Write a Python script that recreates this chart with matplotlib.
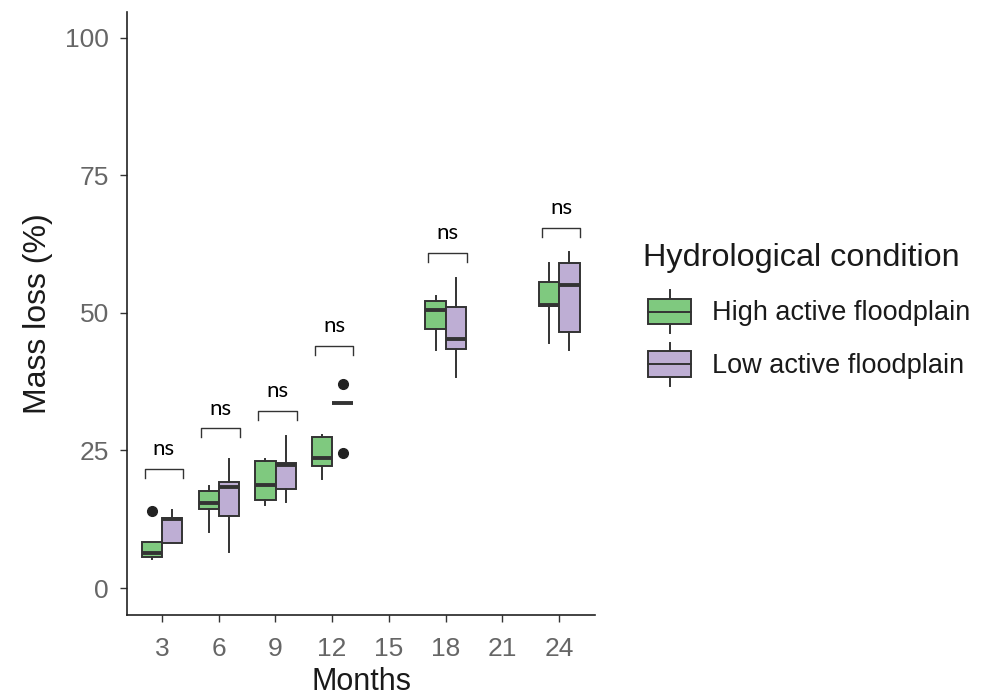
import matplotlib
matplotlib.use("Agg")
import matplotlib.pyplot as plt
from matplotlib.patches import Rectangle
from matplotlib.lines import Line2D
from matplotlib.legend_handler import HandlerBase

plt.rcParams['font.family'] = ['Liberation Sans', 'DejaVu Sans']

# ---- data ----
months = [3, 6, 9, 12, 18, 24]
groups = ["High active floodplain", "Low active floodplain"]
legend_title = "Hydrological condition"

high_whislo = [5.3, 10.2, 15.1, 19.9, 43.3, 44.5]
high_q1     = [5.7, 14.3, 16.0, 22.1, 47.0, 51.3]
high_med    = [6.4, 15.4, 18.7, 23.6, 50.5, 51.5]
high_q3     = [8.3, 17.7, 23.0, 27.5, 52.2, 55.7]
high_whishi = [8.3, 18.5, 23.4, 27.9, 53.0, 59.1]
high_fliers = [[14.0], [], [], [], [], []]

low_whislo = [8.1, 6.5, 15.6, 33.7, 38.3, 43.3]
low_q1     = [8.1, 13.1, 18.0, 33.7, 43.4, 46.6]
low_med    = [12.6, 18.4, 22.4, 33.7, 45.3, 55.0]
low_q3     = [12.8, 19.3, 22.7, 33.7, 51.0, 59.0]
low_whishi = [14.2, 23.5, 27.7, 33.7, 56.3, 61.1]
low_fliers = [[], [], [], [37.0, 24.6], [], []]

sig_labels = ["ns", "ns", "ns", "ns", "ns", "ns"]
sig_y = [21.6, 29.0, 32.2, 44.0, 60.9, 65.4]

xticks = [3, 6, 9, 12, 15, 18, 21, 24]
yticks = [0, 25, 50, 75, 100]

colors = ["#7fc97f", "#beaed4"]
edge = "#333333"

fig = plt.figure(figsize=(9.92, 6.96), dpi=100)
ax = fig.add_axes([127/992, 1-615/696, (595-127)/992, (615-12)/696])

def stats(wl, q1, md, q3, wh, fl):
    return [dict(whislo=a, q1=b, med=c, q3=d, whishi=e, fliers=f)
            for a, b, c, d, e, f in zip(wl, q1, md, q3, wh, fl)]

sets = [
    stats(high_whislo, high_q1, high_med, high_q3, high_whishi, high_fliers),
    stats(low_whislo, low_q1, low_med, low_q3, low_whishi, low_fliers),
]
offsets = [-0.53, 0.55]
width = 1.07
for st, off, col in zip(sets, offsets, colors):
    ax.bxp(st, positions=[m + off for m in months], widths=width,
           patch_artist=True, showcaps=False, manage_ticks=False,
           boxprops=dict(facecolor=col, edgecolor=edge, linewidth=1.4),
           whiskerprops=dict(color=edge, linewidth=1.4),
           medianprops=dict(color=edge, linewidth=2.8, solid_capstyle='butt'),
           flierprops=dict(marker='o', markerfacecolor='#222222',
                           markeredgecolor='#222222', markersize=7))

# significance brackets
for m, y, lab in zip(months, sig_y, sig_labels):
    x0, x1 = m - 0.92, m + 1.12
    ax.plot([x0, x0, x1, x1], [y - 1.6, y, y, y - 1.6], color=edge, lw=1.0)
    ax.text((x0 + x1) / 2, y + 1.8, lab, ha='center', va='bottom',
            fontsize=16, family=['Lato', 'DejaVu Sans'], color='black')

ax.set_xlim(1.15, 25.9)
ax.set_ylim(-4.9, 104.7)
ax.set_xticks(xticks)
ax.set_yticks(yticks)
ax.spines['top'].set_visible(False)
ax.spines['right'].set_visible(False)
for s in ['left', 'bottom']:
    ax.spines[s].set_linewidth(1.2)
    ax.spines[s].set_color('#222222')
ax.tick_params(axis='both', length=5, width=1.0, color='#333333',
               labelsize=19, labelcolor='#666666', pad=8)
ax.tick_params(axis='x', pad=11)
ax.set_xlabel("Months", fontsize=22, color='#1a1a1a', labelpad=4)
ax.set_ylabel("Mass loss (%)", fontsize=23, color='#1a1a1a', labelpad=9)


class BoxHandler(HandlerBase):
    def create_artists(self, legend, orig_handle, xdescent, ydescent,
                       width, height, fontsize, trans):
        x0 = -xdescent
        y0 = -ydescent
        fc = orig_handle.get_facecolor()
        rb = y0 + height * 0.2
        rt = y0 + height * 0.8
        xm = x0 + width / 2
        w1 = Line2D([xm, xm], [y0, rb], color=edge, lw=1.4, transform=trans)
        w2 = Line2D([xm, xm], [rt, y0 + height], color=edge, lw=1.4, transform=trans)
        rect = Rectangle((x0, rb), width, rt - rb, facecolor=fc,
                         edgecolor=edge, lw=1.4, transform=trans)
        med = Line2D([x0, x0 + width], [(rb + rt) / 2] * 2, color=edge,
                     lw=1.4, transform=trans)
        return [w1, w2, rect, med]


fig.text(643/992, 1 - 258/696, legend_title, fontsize=23.3, color='#1a1a1a',
         ha='left', va='center')
handles = [Rectangle((0, 0), 1, 1, facecolor=c) for c in colors]
leg = fig.legend(handles, groups, handler_map={Rectangle: BoxHandler()},
                 loc='upper left', bbox_to_anchor=(648/992, 1 - 290/696),
                 frameon=False, fontsize=19.5,
                 handlelength=1.59, handleheight=2.07,
                 labelspacing=0.35, handletextpad=0.77, borderpad=0,
                 borderaxespad=0)
for t in leg.get_texts():
    t.set_color('#1a1a1a')

fig.savefig("out.png", dpi=100)
